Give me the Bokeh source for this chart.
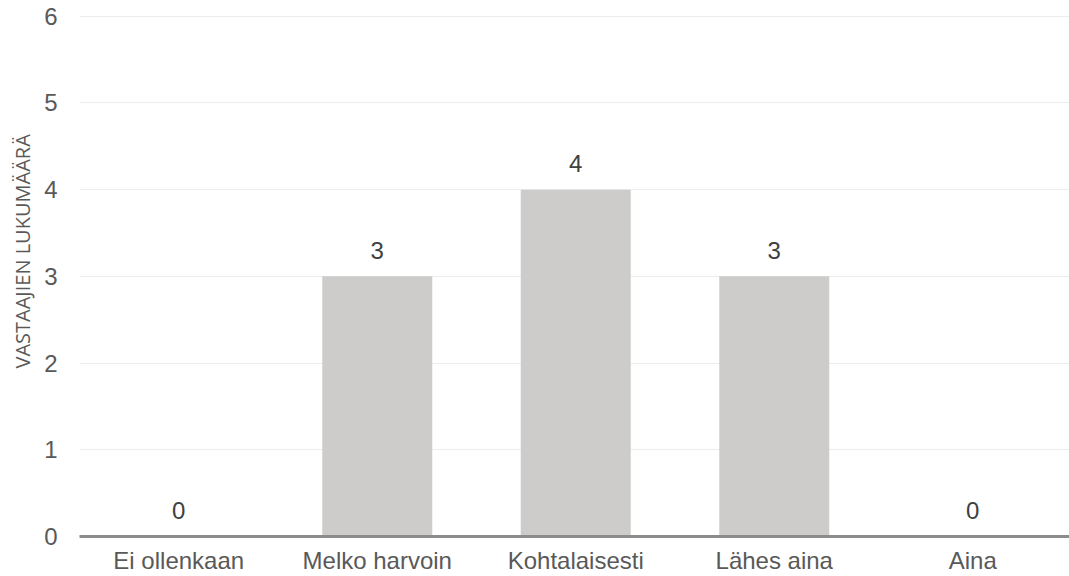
from bokeh.plotting import figure
from bokeh.models import ColumnDataSource, Range1d, FixedTicker, Title
from bokeh.core.properties import value
from bokeh.embed import file_html
from bokeh.resources import INLINE

categories = ["Ei ollenkaan", "Melko harvoin", "Kohtalaisesti", "Lähes aina", "Aina"]
counts = [0, 3, 4, 3, 0]
y_ticks = [0, 1, 2, 3, 4, 5, 6]
y_title = "VASTAAJIEN LUKUMÄÄRÄ"

xs = list(range(len(categories)))
src = ColumnDataSource(dict(x=xs, y=counts, lbl=[str(c) for c in counts]))

FONT = "Liberation Sans"
p = figure(width=1069, height=576, output_backend="svg", toolbar_location=None,
           x_range=Range1d(-0.5, 990 / 198.5 - 0.5), y_range=Range1d(0, 6.02),
           min_border_left=79, min_border_right=0, min_border_top=14, min_border_bottom=0)
p.outline_line_color = None
p.background_fill_color = "white"
p.border_fill_color = "white"

p.vbar(x="x", top="y", width=110 / 198.5, bottom=0, source=src,
       fill_color="#cdcccb", line_color=None)

p.text(x="x", y="y", text="lbl", source=src, text_align="center", text_baseline="middle",
       y_offset=-26, text_font=value(FONT), text_font_size="24px", text_color="#404040")

p.xgrid.grid_line_color = None
p.ygrid.grid_line_color = "#ececec"
p.ygrid.grid_line_width = 1
p.ygrid.ticker = FixedTicker(ticks=y_ticks[1:])

p.xaxis.ticker = FixedTicker(ticks=xs)
p.xaxis.major_label_overrides = {i: c for i, c in enumerate(categories)}
p.xaxis.axis_line_color = "#8c8c8c"
p.xaxis.axis_line_width = 3
p.xaxis.major_tick_line_color = None
p.xaxis.minor_tick_line_color = None
p.xaxis.major_tick_out = 0
p.xaxis.major_tick_in = 0
p.xaxis.major_label_standoff = 10
p.xaxis.major_label_text_font = FONT
p.xaxis.major_label_text_font_size = "24px"
p.xaxis.major_label_text_color = "#595959"

p.yaxis.ticker = FixedTicker(ticks=y_ticks)
p.yaxis.axis_line_color = None
p.yaxis.major_tick_line_color = None
p.yaxis.minor_tick_line_color = None
p.yaxis.major_tick_out = 0
p.yaxis.major_tick_in = 0
p.yaxis.major_label_standoff = 22
p.yaxis.major_label_text_font = FONT
p.yaxis.major_label_text_font_size = "24px"
p.yaxis.major_label_text_color = "#595959"

t = Title(text=y_title, align="left", offset=168, standoff=12,
          text_font="Open Sans", text_font_size="20px", text_font_style="normal",
          text_color="#595959")
p.add_layout(t, "left")

open("out.html", "w").write(file_html(p, INLINE))
